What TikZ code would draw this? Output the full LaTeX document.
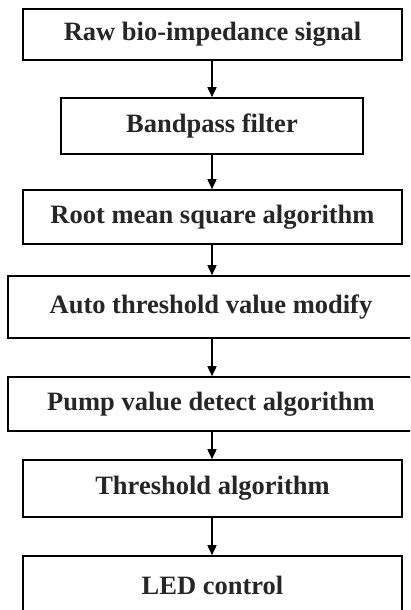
\documentclass[tikz,border=0pt]{standalone}
\usepackage{fontspec}
\setmainfont{Liberation Serif}
\usetikzlibrary{arrows.meta}
\tikzset{
  box/.style={draw=black, line width=1.6pt, fill=white, inner sep=0pt,
    font=\fontsize{26.5}{30}\selectfont\bfseries, text=black!85},
  flow/.style={line width=1.6pt, -{Triangle[length=10pt,width=9pt]}}
}
\begin{document}
\begin{tikzpicture}[x=1pt,y=-1pt]
\useasboundingbox (0,0) rectangle (410,610);
\clip (0,0) rectangle (410,610);
\fill[white] (0,0) rectangle (410,610);
\node[box, minimum width=379pt, minimum height=51pt] (b1) at (212.5,34.5) {Raw bio-impedance signal};
\node[box, minimum width=302pt, minimum height=56pt] (b2) at (212,126) {Bandpass filter};
\node[box, minimum width=379pt, minimum height=54pt] (b3) at (212.5,217) {Root mean square algorithm};
\node[box, minimum width=406pt, minimum height=62pt] (b4) at (211,307) {Auto threshold value modify};
\node[box, minimum width=406pt, minimum height=54pt] (b5) at (211,404) {Pump value detect algorithm};
\node[box, minimum width=379pt, minimum height=57pt] (b6) at (212.5,488.5) {Threshold algorithm};
\node[box, minimum width=379pt, minimum height=58pt] (b7) at (212.5,585) {LED control};
\draw[flow] (b1.south -| 212,0) -- (b2.north -| 212,0);
\draw[flow] (b2.south -| 212,0) -- (b3.north -| 212,0);
\draw[flow] (b3.south -| 212,0) -- (b4.north -| 212,0);
\draw[flow] (b4.south -| 212,0) -- (b5.north -| 212,0);
\draw[flow] (b5.south -| 212,0) -- (b6.north -| 212,0);
\draw[flow] (b6.south -| 212,0) -- (b7.north -| 212,0);
\end{tikzpicture}
\end{document}
